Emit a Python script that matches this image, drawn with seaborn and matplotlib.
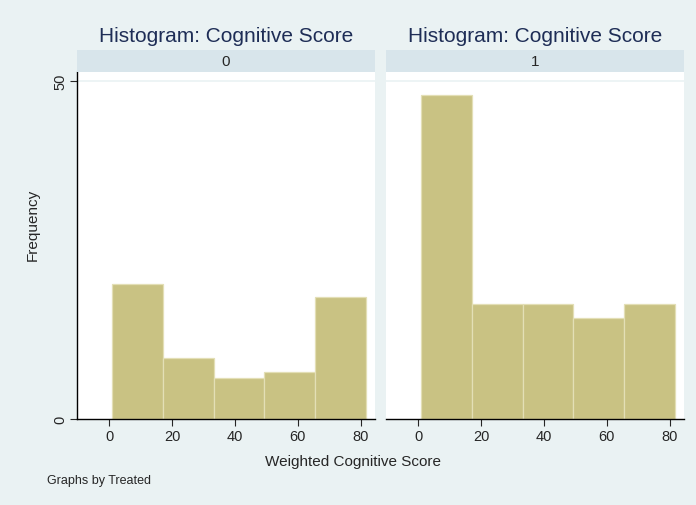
import numpy as np
import pandas as pd
import seaborn as sns
import matplotlib.pyplot as plt

# histogram bins
bin_edges = [1.0, 17.1, 33.2, 49.3, 65.4, 81.5]
counts_untreated = [20, 9, 6, 7, 18]
counts_treated = [48, 17, 17, 15, 17]
groups = ["0", "1"]
x_ticks = [0, 20, 40, 60, 80]
y_ticks = [0, 50]

BG = '#eaf2f3'
STRIP = '#d8e5eb'
BAR = '#c9c283'
BAR_EDGE = '#e3dfb6'
TITLE_C = '#1e2d56'

sns.set_style("white")
plt.rcParams['font.family'] = ['Liberation Sans', 'DejaVu Sans']

mids = [(a + b) / 2 for a, b in zip(bin_edges[:-1], bin_edges[1:])]
df = pd.DataFrame({
    'Treated': np.repeat(groups, len(mids)),
    'score': mids * 2,
    'n': counts_untreated + counts_treated,
})

fig = plt.figure(figsize=(6.96, 5.06), dpi=100, facecolor=BG)
W, H = 696, 506


def box(x0, y0, x1, y1):
    return [x0 / W, 1 - y1 / H, (x1 - x0) / W, (y1 - y0) / H]


panels = [(77, 375), (386, 684)]
ax_top, ax_bot = 72.7, 420
strip_top = 50.7

for i, (g, (x0, x1)) in enumerate(zip(groups, panels)):
    ax = fig.add_axes(box(x0, ax_top, x1, ax_bot))
    ax.set_facecolor('white')
    sub = df[df['Treated'] == g]
    sns.histplot(data=sub, x='score', weights='n', bins=bin_edges, ax=ax,
                 color=BAR, alpha=1, edgecolor=BAR_EDGE, linewidth=0.9)
    ax.set_xlim(-10.2, 84.5)
    ax.set_ylim(0, 51.4)
    ax.axhline(50, color=BG, lw=1.2, zorder=0)
    for s in ['top', 'right']:
        ax.spines[s].set_visible(False)
    ax.spines['bottom'].set_color('black')
    ax.spines['bottom'].set_linewidth(1.0)
    ax.set_xticks(x_ticks)
    ax.tick_params(axis='x', direction='out', length=5, width=0.8,
                   labelsize=10.5, pad=2, bottom=True)
    if i == 0:
        ax.spines['left'].set_color('black')
        ax.spines['left'].set_linewidth(1.0)
        ax.set_yticks(y_ticks)
        ax.set_yticklabels([str(t) for t in y_ticks], rotation=90, va='center')
        ax.tick_params(axis='y', direction='out', length=5, width=0.8,
                       labelsize=10.5, pad=2, left=True)
    else:
        ax.spines['left'].set_visible(False)
        ax.set_yticks([])
    ax.set_xlabel('')
    ax.set_ylabel('')

    sax = fig.add_axes(box(x0, strip_top, x1, ax_top))
    sax.set_facecolor(STRIP)
    sax.set_xticks([])
    sax.set_yticks([])
    for s in sax.spines.values():
        s.set_visible(False)
    sax.text(0.5, 0.48, g, ha='center', va='center', fontsize=11,
             transform=sax.transAxes)
    fig.text((x0 + x1) / 2 / W, 1 - 37 / H, 'Histogram: Cognitive Score',
             ha='center', va='center', fontsize=15, color=TITLE_C)

fig.text(353 / W, 1 - 462 / H, 'Weighted Cognitive Score', ha='center',
         va='center', fontsize=11)
fig.text(33 / W, 1 - 225 / H, 'Frequency', ha='center', va='center',
         rotation=90, fontsize=11)
fig.text(47 / W, 1 - 481 / H, 'Graphs by Treated', ha='left', va='center',
         fontsize=9)

fig.savefig('out.png', dpi=100, facecolor=BG)
